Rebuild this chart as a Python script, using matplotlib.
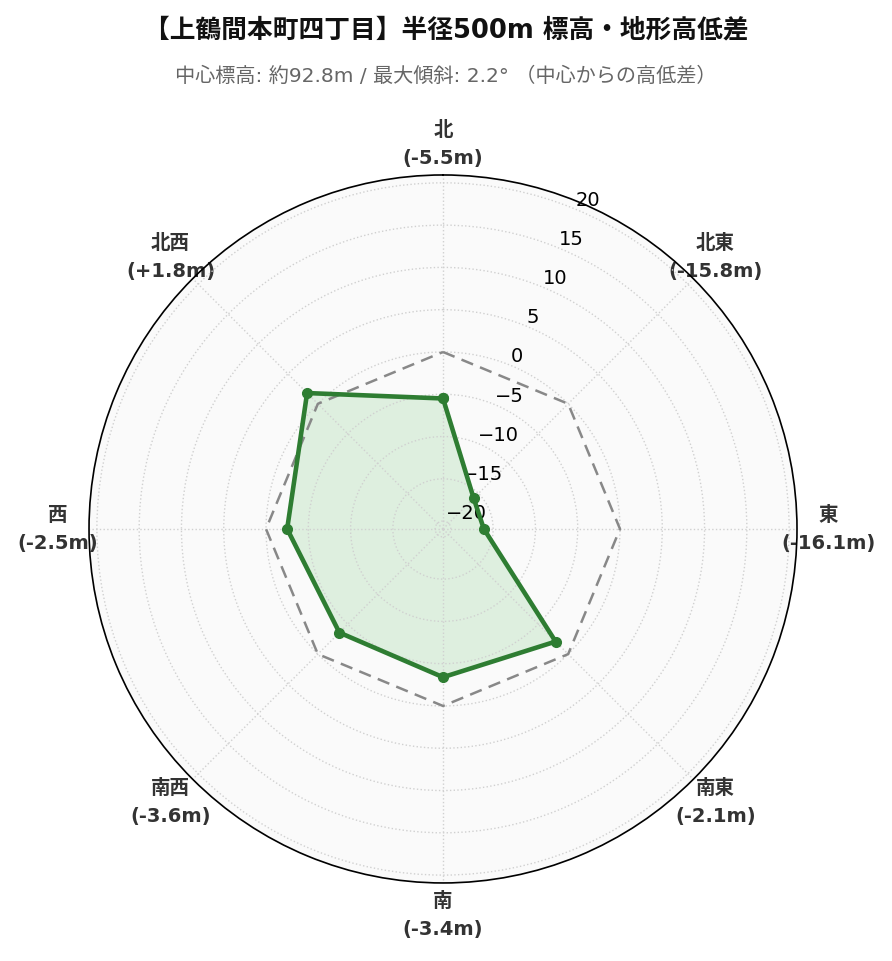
import numpy as np
import matplotlib
matplotlib.use("Agg")
import matplotlib.pyplot as plt

plt.rcParams['font.family'] = ['DejaVu Sans', 'Noto Sans CJK JP']

# 8 directions, clockwise from north
directions = ["北", "北東", "東", "南東", "南", "南西", "西", "北西"]
diffs = [-5.5, -15.8, -16.1, -2.1, -3.4, -3.6, -2.5, 1.8]
radial_ticks = [-20, -15, -10, -5, 0, 5, 10, 15, 20]

TITLE = "【上鶴間本町四丁目】半径500m 標高・地形高低差"
SUBTITLE = "中心標高: 約92.8m / 最大傾斜: 2.2° （中心からの高低差）"

GREEN = "#2e7d32"

n = len(directions)
theta = np.arange(n) * 2 * np.pi / n
theta_c = np.append(theta, theta[0])
vals_c = np.append(diffs, diffs[0])
zero_c = np.zeros_like(theta_c)

rmax = max(abs(v) for v in diffs) * 1.3

fig = plt.figure(figsize=(8.92, 9.62), dpi=100)
ax = fig.add_axes([0.0998, 0.0811, 0.7937, 0.736], projection="polar")
ax.set_theta_zero_location("N")
ax.set_theta_direction(-1)
ax.set_facecolor("#fafafa")
ax.set_ylim(-rmax, rmax)

ax.fill(theta_c, vals_c, color="#c8e6c9", alpha=0.55, zorder=0.5)
ax.plot(theta_c, zero_c, color="#888888", lw=1.8, ls=(0, (5, 3)), zorder=3)
ax.plot(theta_c, vals_c, color=GREEN, lw=3.3, marker="o", ms=7, zorder=4)

ax.set_xticks(theta)
ax.set_xticklabels([f"{d}\n({v:+.1f}m)" if v > 0 else f"{d}\n({v:.1f}m)"
                    for d, v in zip(directions, diffs)],
                   fontsize=14, fontweight="bold", color="#333333",
                   linespacing=1.6)
ax.tick_params(axis="x", pad=12)

ax.set_yticks(radial_ticks)
ax.set_yticklabels([f"{t}".replace("-", "\u2212") for t in radial_ticks],
                   fontsize=14, color="black")
ax.set_rlabel_position(22.5)

ax.grid(True, color="#d0d0d0", ls=":", lw=1.0)
ax.spines["polar"].set_color("black")
ax.spines["polar"].set_linewidth(1.2)

fig.text(0.5, 1 - 30 / 962, TITLE, ha="center", va="center",
         fontsize=18.5, fontweight="bold", color="#111111")
fig.text(0.5, 1 - 76 / 962, SUBTITLE, ha="center", va="center",
         fontsize=14.5, color="#666666")

fig.savefig("out.png", dpi=100)
